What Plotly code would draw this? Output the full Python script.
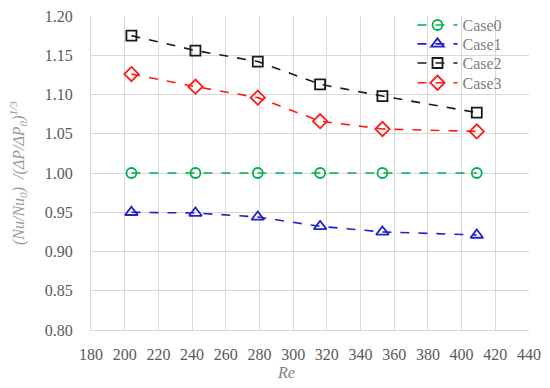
import plotly.graph_objects as go

re_vals = [204, 242, 279, 316, 353, 409]
case0 = [1.000, 1.000, 1.000, 1.000, 1.000, 1.000]
case1 = [0.950, 0.949, 0.944, 0.932, 0.925, 0.921]
case2 = [1.175, 1.156, 1.142, 1.113, 1.098, 1.077]
case3 = [1.126, 1.110, 1.096, 1.066, 1.056, 1.053]

names = ["Case0", "Case1", "Case2", "Case3"]
series = [case0, case1, case2, case3]
colors = ["#00B050", "#2222C8", "#1a1a1a", "#FF1A1A"]
symbols = ["circle-open", "triangle-up-open", "square-open", "diamond-open"]
sizes = [10, 11, 10, 11]

xticks = list(range(180, 441, 20))
yticks = [0.80, 0.85, 0.90, 0.95, 1.00, 1.05, 1.10, 1.15, 1.20]

font_family = "Times New Roman, Liberation Serif, DejaVu Serif, serif"
grid = "#D9D9D9"

legend_ids = ["legend", "legend2", "legend3", "legend4"]
legend_y = [0.971, 0.911, 0.850, 0.787]

fig = go.Figure()
for n, s, c, sym, sz, lid in zip(names, series, colors, symbols, sizes, legend_ids):
    fig.add_trace(go.Scatter(
        x=re_vals, y=s, name=n, mode="lines+markers", legend=lid,
        line=dict(color=c, width=1.6, dash="dash"),
        marker=dict(symbol=sym, size=sz, color=c, line=dict(color=c, width=1.8)),
    ))

legend_common = dict(x=0.734, xanchor="left", yanchor="middle",
                     bgcolor="rgba(0,0,0,0)",
                     font=dict(family=font_family, size=16, color="#7f7f7f"),
                     itemwidth=40)

fig.update_layout(
    width=542, height=380,
    margin=dict(l=83, r=21, t=8, b=58, autoexpand=False),
    paper_bgcolor="white", plot_bgcolor="white",
    font=dict(family=font_family, size=16, color="#595959"),
    showlegend=True,
    xaxis=dict(range=[180, 440], tickvals=xticks, ticktext=[str(t) for t in xticks],
               showgrid=True, gridcolor=grid, gridwidth=1, zeroline=False,
               showline=True, linecolor=grid, linewidth=1, mirror=False,
               ticks="", ticklabelstandoff=10, automargin=False,
               ticklabeloverflow="allow"),
    yaxis=dict(range=[0.80, 1.20], tickvals=yticks, ticktext=["%.2f" % t for t in yticks],
               showgrid=True, gridcolor=grid, gridwidth=1, zeroline=False,
               showline=True, linecolor=grid, linewidth=1,
               ticks="", ticklabelstandoff=14, automargin=False,
               ticklabeloverflow="allow"),
)
for lid, ly in zip(legend_ids, legend_y):
    fig.update_layout({lid: dict(legend_common, y=ly)})

fig.add_annotation(
    xref="paper", yref="paper", x=0.445, y=0, yshift=-42, xanchor="center", yanchor="middle",
    text="<i>Re</i>", showarrow=False, font=dict(family=font_family, size=16, color="#7f7f7f"),
)
fig.add_annotation(
    xref="paper", yref="paper", x=0, xshift=-73, y=0.5, xanchor="center", yanchor="middle",
    textangle=-90, showarrow=False,
    text="<i>(Nu/Nu<sub>0</sub>)  /(ΔP/ΔP<sub>0</sub>)<sup>1/3</sup></i>",
    font=dict(family=font_family, size=16, color="#9a9a9a"),
)

fig.write_html("out.html")
